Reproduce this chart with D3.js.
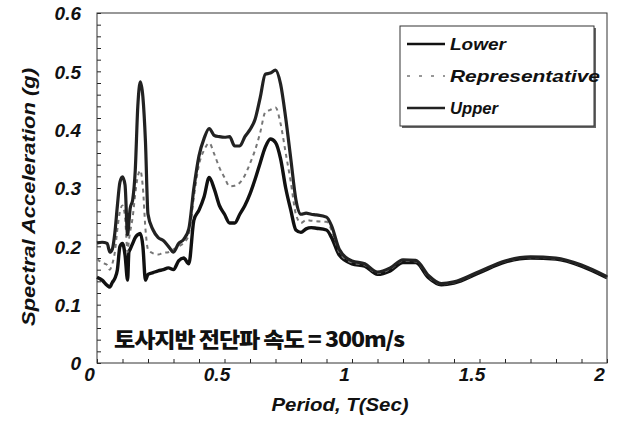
<!DOCTYPE html>
<html>
<head>
<meta charset="utf-8">
<script src="https://cdn.jsdelivr.net/npm/d3@7"></script>
<style>
  body { margin: 0; background: #fff; }
  text { font-family: "Liberation Sans", Arial, sans-serif; font-weight: bold; font-style: italic; fill: #111; }
</style>
</head>
<body>
<div class="chart"></div>
<script>
// period T (sec), shared by all three spectra
const period = [0, 0.02, 0.04, 0.05, 0.06, 0.07, 0.08, 0.09, 0.1, 0.11, 0.12, 0.125, 0.13, 0.14, 0.15, 0.16, 0.17, 0.18, 0.19, 0.2,
  0.22, 0.24, 0.26, 0.28, 0.3, 0.32, 0.34, 0.36, 0.38, 0.4,
  0.42, 0.44, 0.46, 0.48, 0.5, 0.52, 0.54, 0.56, 0.58, 0.6,
  0.62, 0.64, 0.66, 0.68, 0.7, 0.72, 0.74, 0.76, 0.78, 0.8,
  0.82, 0.84, 0.86, 0.9, 0.92, 0.95, 1.0,
  1.05, 1.1, 1.15, 1.2, 1.25, 1.3, 1.35, 1.4, 1.5, 1.6, 1.7, 1.8, 1.9, 2.0]

const upper = [0.206, 0.207, 0.205, 0.19, 0.195, 0.223, 0.27, 0.31, 0.319, 0.305, 0.22, 0.24, 0.265, 0.28, 0.33, 0.44, 0.482, 0.456, 0.38, 0.255,
  0.228, 0.215, 0.21, 0.2, 0.19, 0.205, 0.212, 0.23, 0.3, 0.355,
  0.385, 0.402, 0.39, 0.388, 0.387, 0.388, 0.372, 0.372, 0.388, 0.4,
  0.418, 0.455, 0.495, 0.497, 0.502, 0.478, 0.42, 0.35, 0.28, 0.255,
  0.257, 0.255, 0.254, 0.25, 0.235, 0.195, 0.175,
  0.17, 0.156, 0.163, 0.177, 0.176, 0.15, 0.136, 0.139, 0.157, 0.175, 0.182, 0.18, 0.168, 0.148]

const representative = [0.178, 0.172, 0.168, 0.16, 0.17, 0.19, 0.23, 0.26, 0.27, 0.25, 0.19, 0.21, 0.225, 0.25, 0.29, 0.32, 0.33, 0.3, 0.23, 0.195,
  0.188, 0.186, 0.189, 0.19, 0.195, 0.2, 0.206, 0.22, 0.285, 0.34,
  0.365, 0.377, 0.358, 0.335, 0.318, 0.303, 0.304, 0.309, 0.322, 0.342,
  0.365, 0.395, 0.43, 0.434, 0.438, 0.41, 0.36, 0.31, 0.255, 0.24,
  0.245, 0.244, 0.243, 0.242, 0.228, 0.19, 0.172,
  0.168, 0.154, 0.161, 0.175, 0.174, 0.148, 0.135, 0.138, 0.156, 0.174, 0.181, 0.179, 0.167, 0.147]

const lower = [0.147, 0.142, 0.133, 0.13, 0.138, 0.145, 0.16, 0.2, 0.205, 0.185, 0.142, 0.19, 0.195, 0.205, 0.215, 0.22, 0.222, 0.2, 0.142, 0.152,
  0.155, 0.158, 0.16, 0.163, 0.16, 0.175, 0.18, 0.17, 0.245, 0.262,
  0.285, 0.318, 0.298, 0.27, 0.255, 0.24, 0.24, 0.255, 0.27, 0.29,
  0.315, 0.343, 0.37, 0.384, 0.378, 0.35, 0.3, 0.262, 0.228, 0.224,
  0.23, 0.232, 0.231, 0.228, 0.215, 0.185, 0.17,
  0.166, 0.152, 0.158, 0.172, 0.172, 0.146, 0.134, 0.137, 0.155, 0.173, 0.18, 0.178, 0.166, 0.146]

const seriesNames = ['Lower', 'Representative', 'Upper']
const xTickLabels = [0, 0.5, 1, 1.5, 2]
const yTickLabels = [0, 0.1, 0.2, 0.3, 0.4, 0.5, 0.6]
const note = '토사지반 전단파 속도 = 300m/s'

const W = 622, H = 448
const margin = { left: 97, right: 15, top: 13, bottom: 85 }

const svg = d3.select('.chart')
  .append('svg')
    .attr('width', W)
    .attr('height', H)

const xScale = d3.scaleLinear().domain([0, 2]).range([margin.left, W - margin.right])
const yScale = d3.scaleLinear().domain([0, 0.6]).range([H - margin.bottom, margin.top])

const series = [
  { name: 'Lower', values: lower, color: '#111', width: 3.4, dash: null },
  { name: 'Representative', values: representative, color: '#777', width: 2, dash: '4,4' },
  { name: 'Upper', values: upper, color: '#222', width: 3.2, dash: null }
]

//axes with small inward ticks
const xAxis = svg.append('g')
  .attr('transform', `translate(0, ${yScale(0)})`)
  .call(d3.axisBottom(xScale)
    .tickValues(d3.range(0, 2.001, 0.1))
    .tickSize(-4)
    .tickPadding(5)
    .tickFormat(d => xTickLabels.some(v => Math.abs(v - d) < 1e-6) ? d3.format('~g')(d) : ''))
xAxis.select('.domain').remove()
xAxis.selectAll('line').attr('stroke', '#222')
xAxis.selectAll('text')
  .attr('dx', -8)
  .style('font-size', '19px')
  .style('font-family', '"Liberation Sans", Arial, sans-serif')
  .style('font-weight', 'bold')
  .style('font-style', 'italic')
  .attr('fill', '#111')

const yAxis = svg.append('g')
  .attr('transform', `translate(${xScale(0)}, 0)`)
  .call(d3.axisLeft(yScale)
    .tickValues(d3.range(0, 0.6001, 0.02))
    .tickSize(-4)
    .tickPadding(16)
    .tickFormat(d => yTickLabels.some(v => Math.abs(v - d) < 1e-6) ? d3.format('~g')(d) : ''))
yAxis.select('.domain').remove()
yAxis.selectAll('line').attr('stroke', '#222')
yAxis.selectAll('text')
  .attr('dy', '0.36em')
  .style('font-size', '19px')
  .style('font-family', '"Liberation Sans", Arial, sans-serif')
  .style('font-weight', 'bold')
  .style('font-style', 'italic')
  .attr('fill', '#111')

//frame
svg.append('rect')
  .attr('x', xScale(0))
  .attr('y', yScale(0.6))
  .attr('width', xScale(2) - xScale(0))
  .attr('height', yScale(0) - yScale(0.6))
  .attr('fill', 'none')
  .attr('stroke', '#333')
  .attr('stroke-width', 1)

//curves
const line = d3.line()
  .x((d, i) => xScale(period[i]))
  .y(d => yScale(d))
  .curve(d3.curveMonotoneX)

svg.selectAll('path.spectrum')
  .data(series)
  .enter()
  .append('path')
    .attr('class', 'spectrum')
    .attr('d', d => line(d.values))
    .attr('fill', 'none')
    .attr('stroke', d => d.color)
    .attr('stroke-width', d => d.width)
    .attr('stroke-dasharray', d => d.dash)
    .attr('stroke-linejoin', 'round')

//axis titles
svg.append('text')
  .attr('transform', 'translate(35, 197) rotate(-90)')
  .attr('text-anchor', 'middle')
  .attr('textLength', 258)
  .attr('lengthAdjust', 'spacingAndGlyphs')
  .style('font-size', '18px')
  .text('Spectral Acceleration (g)')

svg.append('text')
  .attr('x', 340)
  .attr('y', 411)
  .attr('text-anchor', 'middle')
  .attr('textLength', 137)
  .attr('lengthAdjust', 'spacingAndGlyphs')
  .style('font-size', '18px')
  .text('Period, T(Sec)')

//annotation
svg.append('text')
  .attr('x', 114)
  .attr('y', 347)
  .attr('textLength', 290)
  .attr('lengthAdjust', 'spacingAndGlyphs')
  .style('font-family', '"Noto Sans CJK KR", sans-serif')
  .style('font-style', 'normal')
  .style('font-weight', 900)
  .style('font-size', '21px')
  .style('letter-spacing', '-1px')
  .text(note)

//legend
const legend = svg.append('g')
legend.append('rect')
  .attr('x', 402).attr('y', 28)
  .attr('width', 194).attr('height', 100)
  .attr('fill', '#666')
legend.append('rect')
  .attr('x', 400).attr('y', 26)
  .attr('width', 194).attr('height', 100)
  .attr('fill', '#fff')
  .attr('stroke', '#333')
  .attr('stroke-width', 1)

const legendLens = { Lower: 56, Representative: 150, Upper: 48 }

legend.selectAll('line.key')
  .data(series)
  .enter()
  .append('line')
    .attr('class', 'key')
    .attr('x1', 407).attr('x2', 445)
    .attr('y1', (d, i) => 44 + i * 32)
    .attr('y2', (d, i) => 44 + i * 32)
    .attr('stroke', d => d.color)
    .attr('stroke-width', d => d.dash ? 1.5 : 2.5)
    .attr('stroke-dasharray', d => d.dash ? '3,9' : null)

legend.selectAll('text.key')
  .data(seriesNames)
  .enter()
  .append('text')
    .attr('class', 'key')
    .attr('x', 450)
    .attr('y', (d, i) => 50 + i * 32)
    .attr('textLength', d => legendLens[d])
    .attr('lengthAdjust', 'spacingAndGlyphs')
    .style('font-size', '17px')
    .text(d => d)
</script>
</body>
</html>
